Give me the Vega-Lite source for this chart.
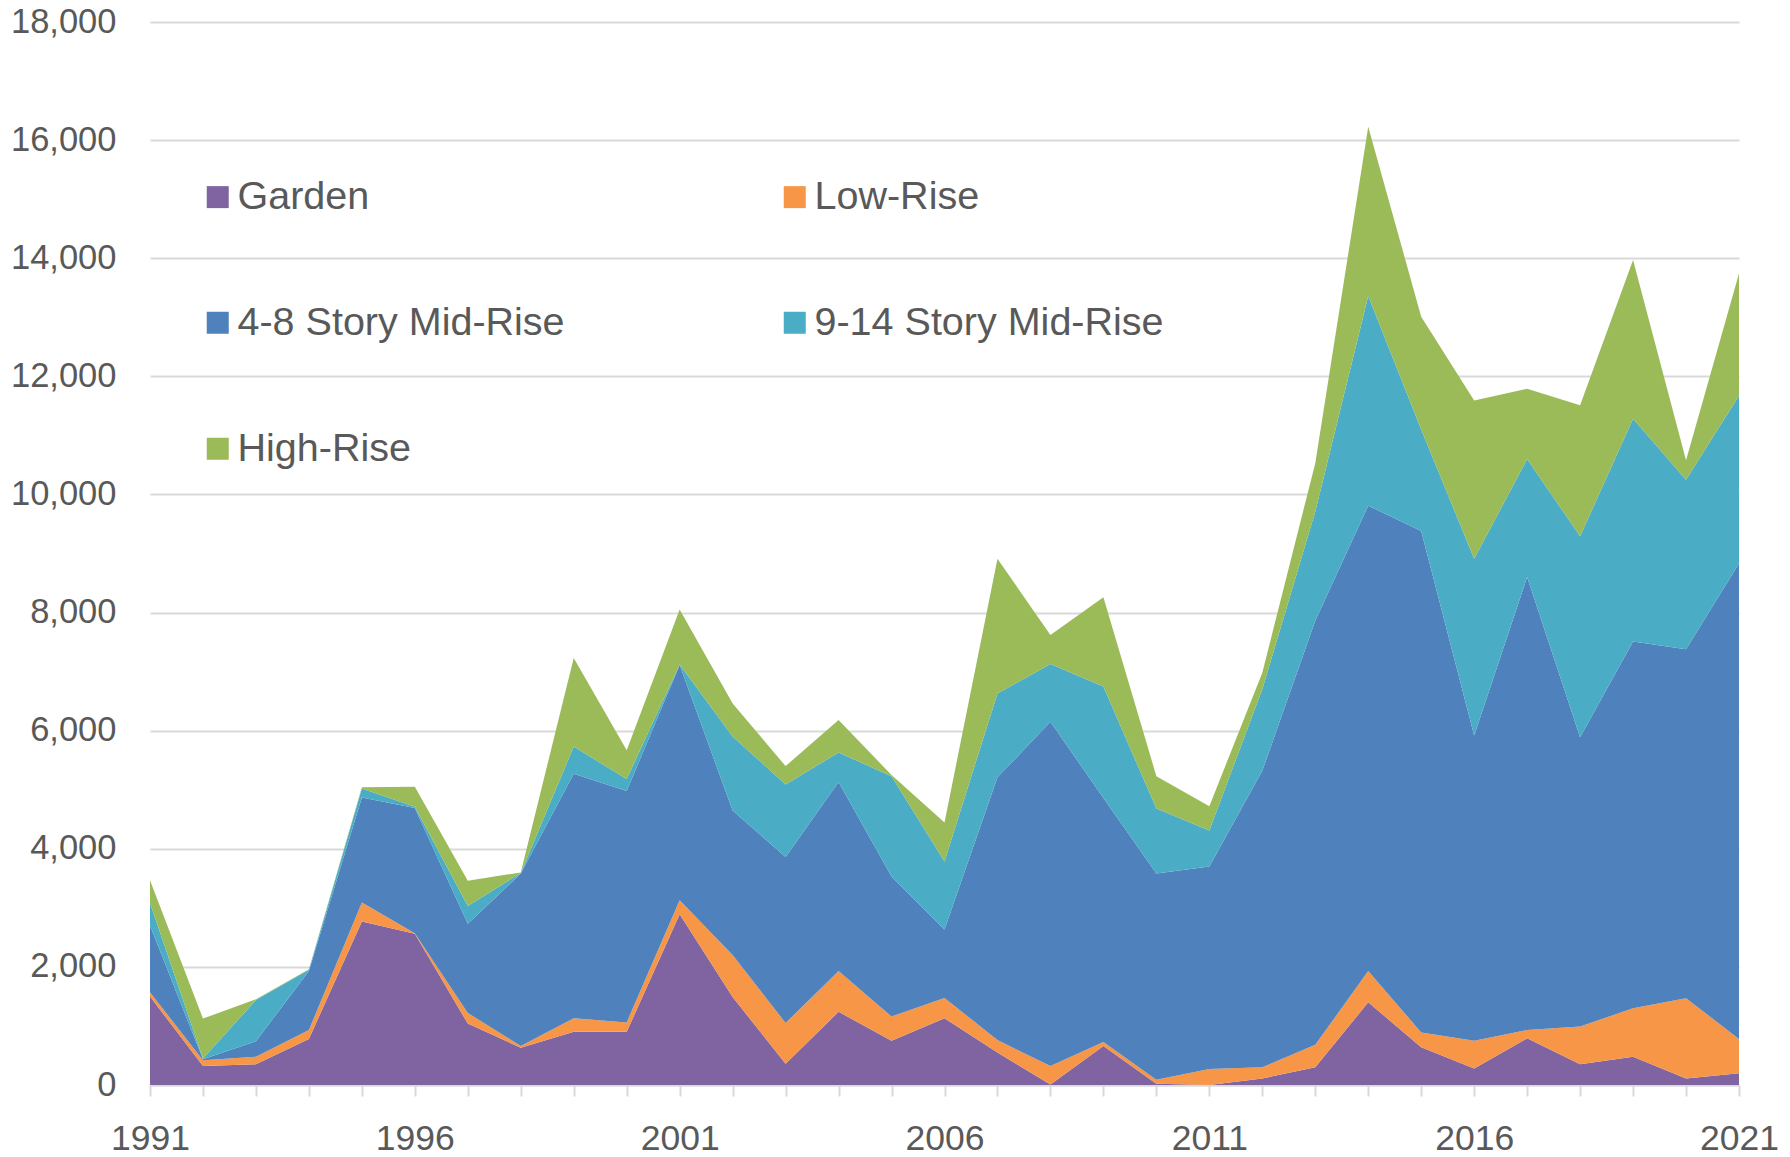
{
  "$schema": "https://vega.github.io/schema/vega-lite/v6.json",
  "width": 1589,
  "height": 1063,
  "autosize": {"type": "none"},
  "padding": {"left": 150, "top": 22, "right": 51, "bottom": 72},
  "background": "white",
  "config": {"view": {"stroke": null}, "font": "Liberation Sans"},
  "data": {
    "values": [
      {"year": 1991, "Garden": 1500, "Low-Rise": 70, "4-8 Story Mid-Rise": 1130, "9-14 Story Mid-Rise": 380, "High-Rise": 385},
      {"year": 1992, "Garden": 320, "Low-Rise": 100, "4-8 Story Mid-Rise": 15, "9-14 Story Mid-Rise": 15, "High-Rise": 675},
      {"year": 1993, "Garden": 350, "Low-Rise": 130, "4-8 Story Mid-Rise": 260, "9-14 Story Mid-Rise": 700, "High-Rise": 10},
      {"year": 1994, "Garden": 780, "Low-Rise": 150, "4-8 Story Mid-Rise": 1000, "9-14 Story Mid-Rise": 20, "High-Rise": 10},
      {"year": 1995, "Garden": 2770, "Low-Rise": 320, "4-8 Story Mid-Rise": 1780, "9-14 Story Mid-Rise": 150, "High-Rise": 20},
      {"year": 1996, "Garden": 2560, "Low-Rise": 10, "4-8 Story Mid-Rise": 2120, "9-14 Story Mid-Rise": 20, "High-Rise": 340},
      {"year": 1997, "Garden": 1040, "Low-Rise": 180, "4-8 Story Mid-Rise": 1510, "9-14 Story Mid-Rise": 300, "High-Rise": 430},
      {"year": 1998, "Garden": 630, "Low-Rise": 30, "4-8 Story Mid-Rise": 2920, "9-14 Story Mid-Rise": 10, "High-Rise": 10},
      {"year": 1999, "Garden": 900, "Low-Rise": 230, "4-8 Story Mid-Rise": 4140, "9-14 Story Mid-Rise": 460, "High-Rise": 1500},
      {"year": 2000, "Garden": 900, "Low-Rise": 160, "4-8 Story Mid-Rise": 3920, "9-14 Story Mid-Rise": 200, "High-Rise": 490},
      {"year": 2001, "Garden": 2890, "Low-Rise": 240, "4-8 Story Mid-Rise": 3980, "9-14 Story Mid-Rise": 10, "High-Rise": 930},
      {"year": 2002, "Garden": 1490, "Low-Rise": 710, "4-8 Story Mid-Rise": 2450, "9-14 Story Mid-Rise": 1250, "High-Rise": 560},
      {"year": 2003, "Garden": 360, "Low-Rise": 690, "4-8 Story Mid-Rise": 2810, "9-14 Story Mid-Rise": 1230, "High-Rise": 310},
      {"year": 2004, "Garden": 1240, "Low-Rise": 690, "4-8 Story Mid-Rise": 3200, "9-14 Story Mid-Rise": 500, "High-Rise": 550},
      {"year": 2005, "Garden": 750, "Low-Rise": 410, "4-8 Story Mid-Rise": 2370, "9-14 Story Mid-Rise": 1700, "High-Rise": 20},
      {"year": 2006, "Garden": 1130, "Low-Rise": 345, "4-8 Story Mid-Rise": 1160, "9-14 Story Mid-Rise": 1150, "High-Rise": 660},
      {"year": 2007, "Garden": 550, "Low-Rise": 210, "4-8 Story Mid-Rise": 4450, "9-14 Story Mid-Rise": 1420, "High-Rise": 2280},
      {"year": 2008, "Garden": 10, "Low-Rise": 310, "4-8 Story Mid-Rise": 5830, "9-14 Story Mid-Rise": 980, "High-Rise": 490},
      {"year": 2009, "Garden": 660, "Low-Rise": 70, "4-8 Story Mid-Rise": 4130, "9-14 Story Mid-Rise": 1890, "High-Rise": 1510},
      {"year": 2010, "Garden": 20, "Low-Rise": 70, "4-8 Story Mid-Rise": 3490, "9-14 Story Mid-Rise": 1100, "High-Rise": 550},
      {"year": 2011, "Garden": 0, "Low-Rise": 270, "4-8 Story Mid-Rise": 3430, "9-14 Story Mid-Rise": 610, "High-Rise": 410},
      {"year": 2012, "Garden": 110, "Low-Rise": 190, "4-8 Story Mid-Rise": 5020, "9-14 Story Mid-Rise": 1380, "High-Rise": 280},
      {"year": 2013, "Garden": 300, "Low-Rise": 380, "4-8 Story Mid-Rise": 7180, "9-14 Story Mid-Rise": 1850, "High-Rise": 820},
      {"year": 2014, "Garden": 1400, "Low-Rise": 530, "4-8 Story Mid-Rise": 7880, "9-14 Story Mid-Rise": 3550, "High-Rise": 2865},
      {"year": 2015, "Garden": 640, "Low-Rise": 250, "4-8 Story Mid-Rise": 8490, "9-14 Story Mid-Rise": 1720, "High-Rise": 1910},
      {"year": 2016, "Garden": 280, "Low-Rise": 470, "4-8 Story Mid-Rise": 5170, "9-14 Story Mid-Rise": 2990, "High-Rise": 2680},
      {"year": 2017, "Garden": 790, "Low-Rise": 140, "4-8 Story Mid-Rise": 7670, "9-14 Story Mid-Rise": 2000, "High-Rise": 1190},
      {"year": 2018, "Garden": 350, "Low-Rise": 640, "4-8 Story Mid-Rise": 4900, "9-14 Story Mid-Rise": 3400, "High-Rise": 2220},
      {"year": 2019, "Garden": 480, "Low-Rise": 820, "4-8 Story Mid-Rise": 6210, "9-14 Story Mid-Rise": 3770, "High-Rise": 2690},
      {"year": 2020, "Garden": 110, "Low-Rise": 1360, "4-8 Story Mid-Rise": 5910, "9-14 Story Mid-Rise": 2870, "High-Rise": 330},
      {"year": 2021, "Garden": 200, "Low-Rise": 580, "4-8 Story Mid-Rise": 8050, "9-14 Story Mid-Rise": 2840, "High-Rise": 2070}
    ]
  },
  "transform": [
    {"fold": ["Garden", "Low-Rise", "4-8 Story Mid-Rise", "9-14 Story Mid-Rise", "High-Rise"], "as": ["type", "units"]},
    {"calculate": "indexof(['Garden','Low-Rise','4-8 Story Mid-Rise','9-14 Story Mid-Rise','High-Rise'], datum.type)", "as": "ord"}
  ],
  "mark": {"type": "area", "interpolate": "linear", "opacity": 1},
  "encoding": {
    "x": {
      "field": "year",
      "type": "quantitative",
      "scale": {"domain": [1991, 2021], "nice": false, "zero": false},
      "axis": {
        "title": null,
        "values": [1991,1992,1993,1994,1995,1996,1997,1998,1999,2000,2001,2002,2003,2004,2005,2006,2007,2008,2009,2010,2011,2012,2013,2014,2015,2016,2017,2018,2019,2020,2021],
        "format": "d",
        "labelExpr": "(datum.value - 1991) % 5 == 0 ? datum.label : ''",
        "grid": false,
        "domainColor": "#D9D9D9",
        "domainWidth": 2,
        "tickColor": "#D9D9D9",
        "tickWidth": 2,
        "tickSize": 11,
        "labelFontSize": 35.5,
        "labelColor": "#595959",
        "labelPadding": 25,
        "labelFlush": false,
        "labelOverlap": false
      }
    },
    "y": {
      "field": "units",
      "type": "quantitative",
      "stack": "zero",
      "scale": {"domain": [0, 18000], "nice": false},
      "axis": {
        "title": null,
        "values": [0, 2000, 4000, 6000, 8000, 10000, 12000, 14000, 16000, 18000],
        "format": ",d",
        "domain": false,
        "ticks": false,
        "gridColor": "#D9D9D9",
        "gridWidth": 2,
        "labelFontSize": 34.5,
        "labelColor": "#595959",
        "labelPadding": 34
      }
    },
    "color": {
      "field": "type",
      "type": "nominal",
      "scale": {
        "domain": ["Garden", "Low-Rise", "4-8 Story Mid-Rise", "9-14 Story Mid-Rise", "High-Rise"],
        "range": ["#8064A2", "#F79646", "#4F81BD", "#4BACC6", "#9BBB59"]
      },
      "legend": {
        "title": null,
        "orient": "none",
        "direction": "horizontal",
        "legendX": 48,
        "legendY": 155,
        "columns": 2,
        "padding": 0,
        "symbolType": "square",
        "symbolSize": 484,
        "symbolStrokeWidth": 0,
        "symbolOpacity": 1,
        "labelFontSize": 39.5,
        "labelColor": "#595959",
        "labelOffset": 0,
        "labelLimit": 600,
        "columnPadding": 210,
        "rowPadding": 85
      }
    },
    "order": {"field": "ord", "type": "quantitative"}
  }
}
